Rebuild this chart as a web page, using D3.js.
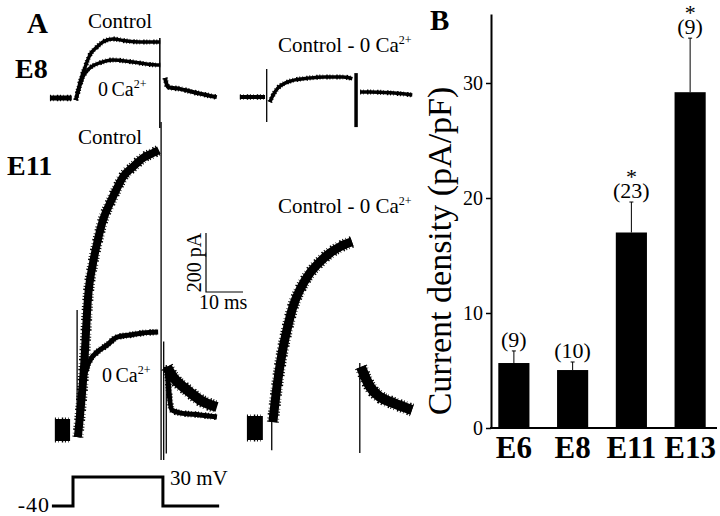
<!DOCTYPE html>
<html>
<head>
<meta charset="utf-8">
<script src="https://cdn.jsdelivr.net/npm/d3@7"></script>
<style>
  body { margin: 0; background: #fff; }
  svg { display: block; }
  text { font-family: "Liberation Serif", "Times New Roman", serif; fill: #000; }
</style>
</head>
<body>
<svg width="720" height="516" id="mainsvg"></svg>
<script>
// ---------- panel B : current density ----------
const stages = ['E6', 'E8', 'E11', 'E13']
const density = [5.65, 5.04, 17.0, 29.2]        // pA/pF
const densitySem = [1.05, 0.7, 2.65, 4.7]
const cellCounts = [9, 10, 23, 9]
const significant = [false, false, true, true]
const densityTicks = [0, 10, 20, 30]

// ---------- panel A : current traces, [time ms, current pA] ----------
const e8Baseline = [[-6.5, 0], [-0.6, 0]]
const e8Control = [[0.5, -7], [1.6, 51], [3.0, 105], [4.3, 146], [6.2, 173], [7.8, 190], [10.5, 200],
                   [14.3, 193], [17.8, 190], [22.4, 190], [23.3, 190]]
const e8ZeroCa = [[0.5, -7], [2.4, 71], [4.3, 102], [7.0, 119], [10.5, 129], [15.9, 122], [22.4, 112], [23.3, 112]]
const e8Tail = [[24.6, 68], [25.4, 37], [28.6, 31], [33.2, 17], [38.6, 3]]
// capacitive spikes: [time, top pA, bottom pA]
const e8Spikes = [[23.2, 203, -102]]

const e8DiffBaseline = [[-7.6, 0], [-0.8, 0]]
const e8Diff = [[0.5, -17], [1.4, 7], [2.7, 31], [4.6, 47], [7.3, 58], [10.8, 64], [15.4, 68],
                [20.3, 68], [21.6, 66], [22.8, 62]]
const e8DiffTail = [[24.9, 17], [27.6, 17], [33.0, 14], [39.0, 7]]
const e8DiffSpikes = [[-0.35, 95, -85]]
const e8DiffOffSpike = [[23.8, 81, -102]]

const e11Baseline = [[-5.7, 0], [-1.6, 0]]
const e11Control = [[0.5, -24], [2.2, 220], [3.2, 441], [4.6, 566], [5.9, 644], [7.3, 712], [9.2, 769],
                    [11.1, 820], [12.7, 858], [15.4, 892], [18.1, 922], [20.8, 939], [22.4, 949]]
const e11ZeroCa = [[0.5, -24], [1.1, 51], [1.6, 119], [2.2, 176], [3.0, 214], [3.8, 237], [5.7, 264],
                   [8.4, 288], [11.1, 315], [14.6, 322], [18.1, 329], [22.2, 332]]
const e11ControlTail = [[24.6, 214], [26.2, 180], [30.0, 136], [33.5, 102], [38.1, 78]]
const e11ZeroCaTail = [[24.6, 214], [25.9, 68], [28.1, 58], [33.5, 51], [38.1, 44]]
const e11Spikes = [[0.3, 407, -24], [23.0, 1044, -102], [23.7, 300, -102], [24.4, 220, -80]]

const e11DiffBaseline = [[-6.5, 0], [-2.2, 0]]
const e11Diff = [[0.5, 20], [1.6, 139], [3.0, 254], [4.3, 332], [5.9, 410], [7.8, 468], [10.5, 525],
                 [13.2, 563], [15.9, 593], [18.6, 614], [21.9, 631]]
const e11DiffTail = [[24.3, 207], [26.8, 139], [29.5, 105], [33.0, 85], [38.1, 61]]
const e11DiffSpikes = [[0.2, 27, -75], [24.0, 220, -85]]

// voltage protocol [time ms, mV]
const protocol = [[-5.7, -40], [0, 30], [24.3, -40], [39.5, -40]]
const scaleBarMs = 10
const scaleBarPa = 200

// ---------- drawing ----------
const svg = d3.select('#mainsvg')
const pxPerMs = 3.7, pxPerPa = 0.295

// panel origins (pixel of t = 0, I = 0)
const panels = {
  e8: {x0: 74, y0: 98},
  e8diff: {x0: 268, y0: 97},
  e11: {x0: 76, y0: 430},
  e11diff: {x0: 271, y0: 428}
}
Object.values(panels).forEach(p => {
  p.x = d3.scaleLinear().domain([0, 10]).range([p.x0, p.x0 + 10 * pxPerMs])
  p.y = d3.scaleLinear().domain([0, 100]).range([p.y0, p.y0 - 100 * pxPerPa])
})

const traces = [
  {panel: 'e8', data: e8Baseline, w: 5, jit: 1.5},
  {panel: 'e8', data: e8Control, w: 3.5, jit: 1.5},
  {panel: 'e8', data: e8ZeroCa, w: 3.5, jit: 1.5},
  {panel: 'e8', data: e8Tail, w: 4, jit: 1.5},
  {panel: 'e8diff', data: e8DiffBaseline, w: 4, jit: 1.5},
  {panel: 'e8diff', data: e8Diff, w: 3.5, jit: 1.5},
  {panel: 'e8diff', data: e8DiffTail, w: 3.5, jit: 1.5},
  {panel: 'e11', data: e11Baseline, w: 22, jit: 3},
  {panel: 'e11', data: e11Control, w: 8, jit: 3},
  {panel: 'e11', data: e11ZeroCa, w: 5, jit: 1.5},
  {panel: 'e11', data: e11ControlTail, w: 10, jit: 3},
  {panel: 'e11', data: e11ZeroCaTail, w: 5, jit: 1.5},
  {panel: 'e11diff', data: e11DiffBaseline, w: 24, jit: 3},
  {panel: 'e11diff', data: e11Diff, w: 9, jit: 3},
  {panel: 'e11diff', data: e11DiffTail, w: 10, jit: 3}
]

const tg = svg.append('g').attr('id', 'traces')
traces.forEach(tr => {
  const p = panels[tr.panel]
  const line = d3.line().x(d => p.x(d[0])).y(d => p.y(d[1])).curve(d3.curveMonotoneX)
  tg.append('path').attr('d', line(tr.data))
    .attr('fill', 'none').attr('stroke', '#000').attr('stroke-width', tr.w)
  // ragged edge to mimic recording noise
  tg.append('path').attr('d', line(tr.data))
    .attr('fill', 'none').attr('stroke', '#000').attr('stroke-width', tr.w + tr.jit)
    .attr('stroke-dasharray', '1 2.2 0.6 3.1 1.4 1.7')
})

const spikes = [
  {panel: 'e8', data: e8Spikes, w: 1.5},
  {panel: 'e8diff', data: e8DiffSpikes, w: 1.3},
  {panel: 'e8diff', data: e8DiffOffSpike, w: 3.5},
  {panel: 'e11', data: e11Spikes, w: 1.3},
  {panel: 'e11diff', data: e11DiffSpikes, w: 1.3}
]
spikes.forEach(s => {
  const p = panels[s.panel]
  tg.selectAll(null).data(s.data).join('line')
    .attr('x1', d => p.x(d[0])).attr('x2', d => p.x(d[0]))
    .attr('y1', d => p.y(d[1])).attr('y2', d => p.y(d[2]))
    .attr('stroke', '#000').attr('stroke-width', s.w)
})

// scale bar
const sbX = d3.scaleLinear().domain([0, 10]).range([206, 206 + 10 * pxPerMs])
const sbY = d3.scaleLinear().domain([0, 100]).range([292, 292 - 100 * pxPerPa])
svg.append('path')
  .attr('d', `M${sbX(0)},${sbY(scaleBarPa)}V${sbY(0)}H${sbX(scaleBarMs)}`)
  .attr('fill', 'none').attr('stroke', '#000').attr('stroke-width', 1.2)
svg.append('text').attr('transform', `translate(201,${(sbY(0) + sbY(scaleBarPa)) / 2}) rotate(-90)`)
  .attr('text-anchor', 'middle').attr('font-size', 20).text(`${scaleBarPa} pA`)
svg.append('text').attr('x', 199).attr('y', 309).attr('font-size', 20).text(`${scaleBarMs} ms`)

// voltage protocol
const vx = d3.scaleLinear().domain([0, 10]).range([73, 73 + 10 * pxPerMs])
const vy = d3.scaleLinear().domain([-40, 30]).range([506, 477])
svg.append('path')
  .attr('d', d3.line().x(d => vx(d[0])).y(d => vy(d[1])).curve(d3.curveStepAfter)(protocol))
  .attr('fill', 'none').attr('stroke', '#000').attr('stroke-width', 3)
svg.append('text').attr('x', 50).attr('y', 512).attr('text-anchor', 'end').attr('font-size', 22)
  .attr('letter-spacing', 1).text('-40')
svg.append('text').attr('x', 170).attr('y', 485).attr('font-size', 21).text('30 mV')

// panel A labels
const lab = (x, y, txt, size, opts = {}) => {
  const t = svg.append('text').attr('x', x).attr('y', y).attr('font-size', size)
    .attr('text-anchor', opts.anchor || 'start')
    .attr('font-weight', opts.bold ? 'bold' : 'normal')
  t.append('tspan').text(txt)
  if (opts.sup) t.append('tspan').attr('font-size', 12).attr('dy', -8).text(opts.sup)
  if (opts.ws) t.attr('word-spacing', opts.ws)
  return t
}
lab(27, 33, 'A', 29, {bold: true})
lab(15, 78, 'E8', 28, {bold: true})
lab(7, 175, 'E11', 28, {bold: true})
lab(120, 28, 'Control', 21, {anchor: 'middle'})
lab(98, 96, '0 Ca', 20, {sup: '2+', ws: -1.5})
lab(278, 52, 'Control - 0 Ca', 21, {sup: '2+'})
lab(110, 144, 'Control', 21, {anchor: 'middle'})
lab(102, 382, '0 Ca', 20, {sup: '2+', ws: -1.5})
lab(278, 213, 'Control - 0 Ca', 21, {sup: '2+'})

// ---------- panel B ----------
lab(430, 30, 'B', 29, {bold: true})
const y = d3.scaleLinear().domain([0, 36]).range([428, 14])
const x = d3.scaleBand().domain(stages).range([484.5, 719.5]).paddingInner(0.47).paddingOuter(0.235)
const axisX = 491

const yAxis = svg.append('g').attr('transform', `translate(${axisX},0)`)
  .call(d3.axisLeft(y).tickValues(densityTicks).tickSize(5).tickSizeOuter(0).tickPadding(3))
yAxis.attr('font-family', null).attr('font-size', 20)
yAxis.select('.domain').attr('stroke-width', 2)
yAxis.selectAll('.tick line').attr('stroke-width', 1.5)
yAxis.selectAll('.tick text').attr('fill', '#000')

svg.append('line').attr('x1', axisX - 1).attr('x2', 717).attr('y1', y(0)).attr('y2', y(0))
  .attr('stroke', '#000').attr('stroke-width', 2)

svg.append('text').attr('transform', `translate(451,251) rotate(-90)`)
  .attr('text-anchor', 'middle').attr('font-size', 34).text('Current density (pA/pF)')

const rows = stages.map((s, i) => ({s, v: density[i], e: densitySem[i], n: cellCounts[i], sig: significant[i]}))
const bg = svg.append('g')
bg.selectAll('rect').data(rows).join('rect')
  .attr('x', d => x(d.s)).attr('width', x.bandwidth())
  .attr('y', d => y(d.v)).attr('height', d => y(0) - y(d.v)).attr('fill', '#000')
const cx = d => x(d.s) + x.bandwidth() / 2
bg.selectAll('line.err').data(rows).join('line').attr('class', 'err')
  .attr('x1', cx).attr('x2', cx).attr('y1', d => y(d.v)).attr('y2', d => y(d.v + d.e))
  .attr('stroke', '#000').attr('stroke-width', 1)
bg.selectAll('line.cap').data(rows).join('line').attr('class', 'cap')
  .attr('x1', d => cx(d) - 2).attr('x2', d => cx(d) + 2).attr('y1', d => y(d.v + d.e)).attr('y2', d => y(d.v + d.e))
  .attr('stroke', '#000').attr('stroke-width', 1)
// n label, with the significance star stacked above it in the same text block
const nLab = bg.selectAll('text.n').data(rows).join('text').attr('class', 'n')
  .attr('text-anchor', 'middle').attr('font-size', 22)
nLab.filter(d => d.sig).append('tspan')
  .attr('x', cx).attr('y', d => y(d.v + d.e) - 18).text('*')
nLab.append('tspan')
  .attr('x', cx).attr('y', d => y(d.v + d.e) - 4).text(d => `(${d.n})`)
bg.selectAll('text.stage').data(rows).join('text').attr('class', 'stage')
  .attr('x', cx).attr('y', 458).attr('text-anchor', 'middle').attr('font-size', 31).attr('font-weight', 'bold')
  .text(d => d.s)
</script>
</body>
</html>
